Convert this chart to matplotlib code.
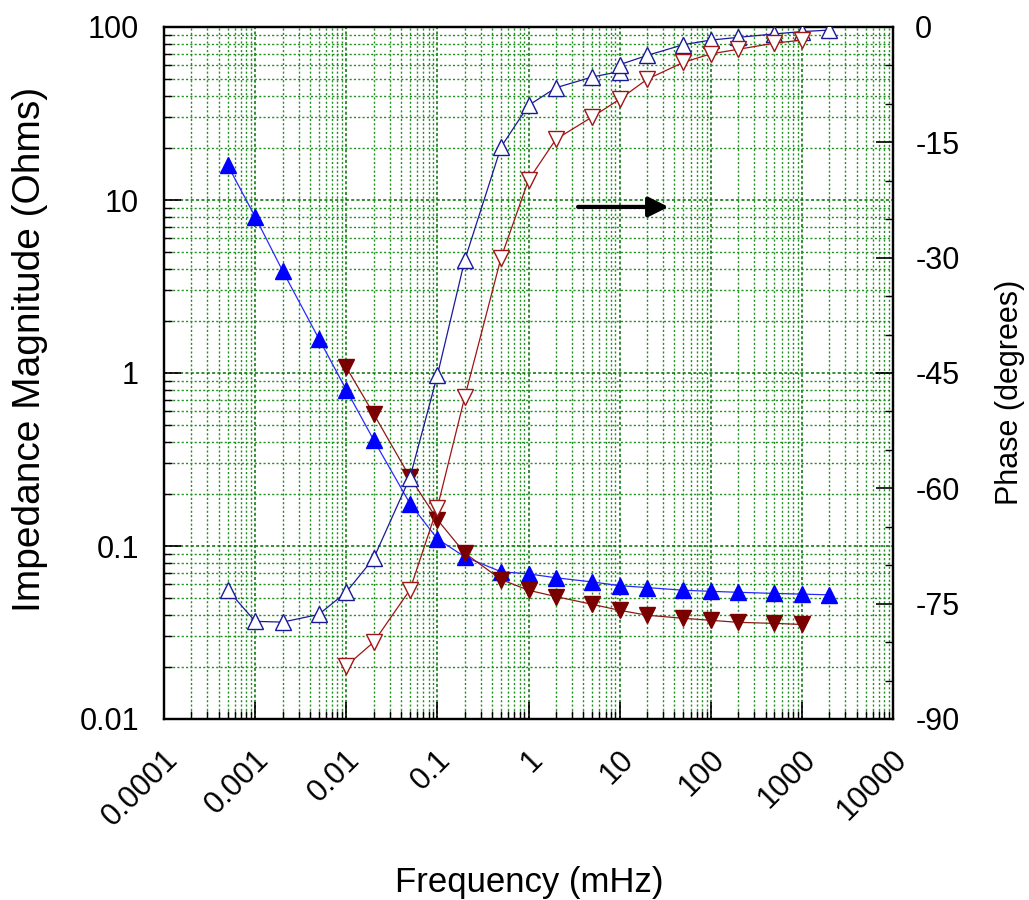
import matplotlib
matplotlib.use("Agg")
import matplotlib.pyplot as plt
import matplotlib.ticker as mticker
import matplotlib.transforms as mtransforms
import numpy as np

plt.rcParams['font.family'] = ['Liberation Sans', 'DejaVu Sans']

# ---------------- data ----------------
freq_blue = [0.0005, 0.001, 0.002, 0.005, 0.01, 0.02, 0.05, 0.1, 0.2, 0.5,
             1, 2, 5, 10, 20, 50, 100, 200, 500, 1000, 2000]
mag_blue = [15.9, 8.0, 3.9, 1.58, 0.80, 0.41, 0.176, 0.110, 0.0865, 0.071,
            0.069, 0.0655, 0.062, 0.059, 0.0575, 0.0555, 0.0547, 0.054, 0.0532, 0.0527, 0.0522]

freq_blue_ph = [0.0005, 0.001, 0.002, 0.005, 0.01, 0.02, 0.05, 0.1, 0.2, 0.5,
                1, 2, 5, 10, 10, 20, 50, 100, 200, 500, 1000, 2000]
phase_blue = [-73.2, -77.3, -77.4, -76.4, -73.5, -69.1, -58.6, -45.3, -30.3, -15.6,
              -10.2, -7.9, -6.5, -5.8, -4.9, -3.7, -2.3, -1.7, -1.35, -0.9, -0.6, -0.4]

freq_red = [0.01, 0.02, 0.05, 0.1, 0.2, 0.5, 1, 2, 5, 10, 20, 50, 100, 200, 500, 1000]
mag_red = [1.08, 0.58, 0.25, 0.142, 0.091, 0.064, 0.0555, 0.051, 0.046, 0.0425,
           0.0398, 0.0382, 0.0372, 0.0362, 0.0357, 0.0352]
phase_red = [-83.1, -80.0, -73.2, -62.5, -48.1, -30.0, -19.9, -14.6, -11.7, -9.4,
             -6.8, -4.6, -3.5, -2.9, -2.1, -1.7]

xtick_vals = [1e-4, 1e-3, 1e-2, 1e-1, 1, 10, 100, 1000, 10000]
xtick_labels = ['0.0001', '0.001', '0.01', '0.1', '1', '10', '100', '1000', '10000']
ytick_vals = [0.01, 0.1, 1, 10, 100]
ytick_labels = ['0.01', '0.1', '1', '10', '100']
phase_ticks = [-90, -75, -60, -45, -30, -15, 0]
phase_labels = ['-90', '-75', '-60', '-45', '-30', '-15', '0']

# ---------------- figure ----------------
fig = plt.figure(figsize=(10.29, 9), dpi=100)
ax = fig.add_axes([164/1029, 1 - 719/900, (893-164)/1029, (719-27)/900])
ax2 = ax.twinx()

FS = 22

ax.set_xscale('log')
ax.set_yscale('log')
ax.set_xlim(1e-4, 1e4)
ax.set_ylim(0.01, 100)
ax2.set_ylim(-90, 0)

# grid
ax.grid(True, which='major', color='#006e00', linestyle=(0, (2.0, 1.5)), linewidth=1.1)
ax.grid(True, which='minor', color='#1f8f1f', linestyle=(0, (1.5, 1.6)), linewidth=1.0)
ax.set_axisbelow(True)

# magnitude (filled)
ax.plot(freq_blue, mag_blue, color='#2a2aff', lw=0.9, marker='^', ms=11,
        markerfacecolor='#0000ff', markeredgecolor='#0000ff', zorder=3)
ax.plot(freq_red, mag_red, color='#8b1a1a', lw=0.9, marker='v', ms=11,
        markerfacecolor='#7a0000', markeredgecolor='#7a0000', zorder=3)

# phase (open)
ax2.plot(freq_blue_ph, phase_blue, color='#1a1a99', lw=0.9, marker='^', ms=11,
         markerfacecolor='white', markeredgecolor='#1a1a99', markeredgewidth=1.0, zorder=3)
ax2.plot(freq_red, phase_red, color='#a01515', lw=0.9, marker='v', ms=11,
         markerfacecolor='white', markeredgecolor='#a01515', markeredgewidth=1.0, zorder=3)

# ticks
ax.set_xticks(xtick_vals)
ax.set_xticklabels(xtick_labels)
ax.xaxis.set_minor_locator(mticker.LogLocator(base=10, subs=np.arange(2, 10), numticks=100))
ax.xaxis.set_minor_formatter(mticker.NullFormatter())
ax.set_yticks(ytick_vals)
ax.set_yticklabels(ytick_labels)
ax.yaxis.set_minor_locator(mticker.LogLocator(base=10, subs=np.arange(2, 10), numticks=100))
ax.yaxis.set_minor_formatter(mticker.NullFormatter())

ax.tick_params(axis='both', which='both', direction='in', top=False, right=False)
ax.tick_params(axis='both', which='major', length=12, width=1.2, labelsize=FS)
ax.tick_params(axis='both', which='minor', length=6, width=1.0)
ax.tick_params(axis='y', which='major', pad=18)
ax.tick_params(axis='x', which='major', pad=26)

for lab in ax.get_xticklabels():
    lab.set_rotation(45)
    lab.set_rotation_mode('anchor')
    lab.set_ha('right')
    lab.set_va('center')
offset = mtransforms.ScaledTranslation(9/100, 0, fig.dpi_scale_trans)
for lab in ax.get_xticklabels():
    lab.set_transform(lab.get_transform() + offset)

ax2.set_yticks(phase_ticks)
ax2.set_yticklabels(phase_labels)
ax2.yaxis.set_minor_locator(mticker.MultipleLocator(5))
ax2.tick_params(axis='y', which='major', direction='in', length=12, width=1.2,
                labelsize=FS, pad=16)
ax2.tick_params(axis='y', which='minor', direction='in', length=6, width=1.0)

for sp in ax.spines.values():
    sp.set_linewidth(1.6)
for sp in ax2.spines.values():
    sp.set_linewidth(1.6)

# labels
ax.set_ylabel('Impedance Magnitude (Ohms)', fontsize=28)
ax.yaxis.set_label_coords(-0.159, 0.534)
ax2.set_ylabel('Phase (degrees)', fontsize=FS, rotation=90, va='center')
ax2.yaxis.set_label_coords(1.160, 0.472)
ax.set_xlabel('Frequency (mHz)', fontsize=25)
ax.xaxis.set_label_coords(0.501, -0.212)

# arrow pointing to the phase axis
ax.annotate('', xy=(0.692, 0.740), xytext=(0.568, 0.740), xycoords='axes fraction',
            arrowprops=dict(arrowstyle='-|>', lw=3.0, color='black', mutation_scale=30,
                            shrinkA=0, shrinkB=0))

fig.savefig('out.png', dpi=100)
